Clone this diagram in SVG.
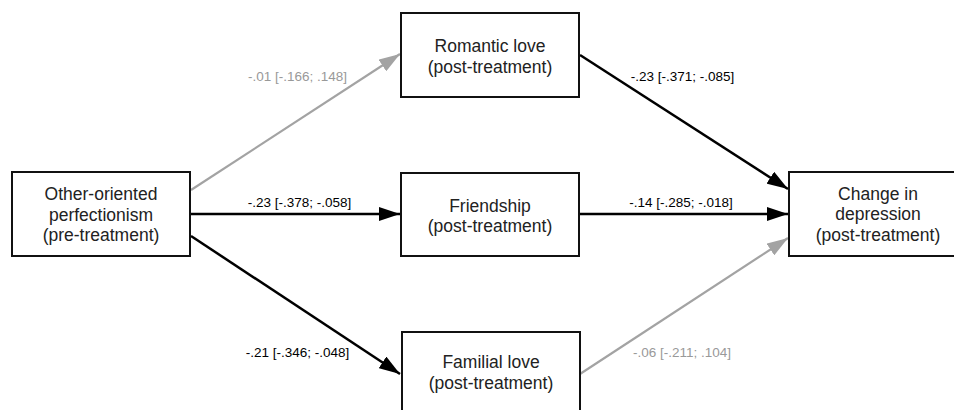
<svg xmlns="http://www.w3.org/2000/svg" width="954" height="410" viewBox="0 0 954 410">
<style>
.box{fill:#fff;stroke:#111;stroke-width:2}
.nt{font-family:"Liberation Sans",Arial,sans-serif;font-size:17.5px;fill:#222;text-anchor:middle}
.el{font-family:"Liberation Sans",Arial,sans-serif;font-size:13.5px;text-anchor:middle}
.blk{stroke:#000;stroke-width:2.5;fill:none}
.gry{stroke:#a3a3a3;stroke-width:2.2;fill:none}
</style>
<defs>
<marker id="ab" markerUnits="userSpaceOnUse" markerWidth="22" markerHeight="14" refX="21" refY="7" orient="auto">
<path d="M0,0 L21,7 L0,14 z" fill="#000"/>
</marker>
<marker id="ag" markerUnits="userSpaceOnUse" markerWidth="22" markerHeight="14" refX="21" refY="7" orient="auto">
<path d="M0,0 L21,7 L0,14 z" fill="#a3a3a3"/>
</marker>
</defs>
<rect width="954" height="410" fill="#fff"/>
<g id="connectors">
<line class="gry" x1="191" y1="190" x2="400" y2="54" marker-end="url(#ag)"/>
<line class="blk" x1="191" y1="214" x2="400" y2="214" marker-end="url(#ab)"/>
<line class="blk" x1="191" y1="236" x2="400" y2="374" marker-end="url(#ab)"/>
<line class="blk" x1="580" y1="55" x2="788" y2="189" marker-end="url(#ab)"/>
<line class="blk" x1="580" y1="214" x2="788" y2="214" marker-end="url(#ab)"/>
<line class="gry" x1="580" y1="374" x2="788" y2="238" marker-end="url(#ag)"/>
<text class="el" x="297.5" y="81" fill="#999">-.01 [-.166; .148]</text>
<text class="el" x="682.5" y="81" fill="#000">-.23 [-.371; -.085]</text>
<text class="el" x="299.5" y="207" fill="#000">-.23 [-.378; -.058]</text>
<text class="el" x="681" y="207" fill="#000">-.14 [-.285; -.018]</text>
<text class="el" x="297.5" y="357" fill="#000">-.21 [-.346; -.048]</text>
<text class="el" x="682" y="357" fill="#999">-.06 [-.211; .104]</text>
</g>
<g id="oop">
<rect class="box" x="12" y="172" width="178" height="84"/>
<text class="nt" x="101" y="200">Other-oriented</text>
<text class="nt" x="101" y="220.5">perfectionism</text>
<text class="nt" x="101" y="241">(pre-treatment)</text>
</g>
<g id="romantic">
<rect class="box" x="401" y="13" width="178" height="84"/>
<text class="nt" x="490" y="52">Romantic love</text>
<text class="nt" x="490" y="72.5">(post-treatment)</text>
</g>
<g id="friendship">
<rect class="box" x="401" y="173" width="178" height="83"/>
<text class="nt" x="490" y="211.5">Friendship</text>
<text class="nt" x="490" y="232">(post-treatment)</text>
</g>
<g id="familial">
<rect class="box" x="402" y="332" width="178" height="84"/>
<text class="nt" x="491" y="368">Familial love</text>
<text class="nt" x="491" y="388.5">(post-treatment)</text>
</g>
<g id="depression">
<rect class="box" x="789" y="172" width="178" height="84"/>
<text class="nt" x="878" y="199.5">Change in</text>
<text class="nt" x="878" y="220">depression</text>
<text class="nt" x="878" y="240.5">(post-treatment)</text>
</g>
</svg>
